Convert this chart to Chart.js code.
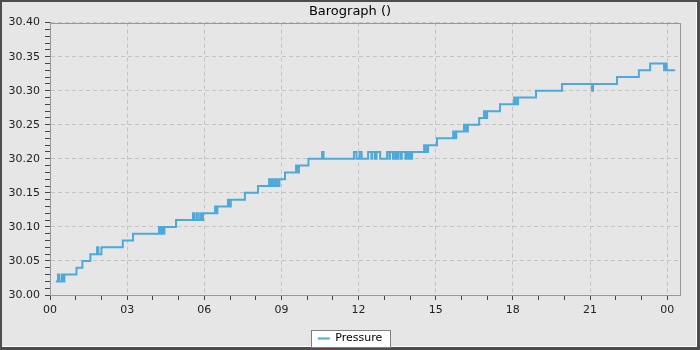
<!DOCTYPE html>
<html>
<head>
<meta charset="utf-8">
<title>Barograph</title>
<script src="https://cdn.jsdelivr.net/npm/chart.js@4.4.1/dist/chart.umd.min.js"></script>
<style>
  html, body { margin: 0; padding: 0; background: #e6e6e6; }
  #wrap { width: 700px; height: 350px; }
</style>
</head>
<body>
<div id="wrap"><canvas id="chart-barograph" width="700" height="350"></canvas></div>
<script>
// Barograph readings: hour since midnight, pressure (inHg)
const hours = [
  0.23, 0.31, 0.35, 0.45, 0.50, 0.56, 1.03, 1.26, 1.57, 1.83, 1.88, 2.00,
  2.83, 3.23, 4.24, 4.29, 4.34, 4.39, 4.45, 4.90, 5.56, 5.61, 5.70, 5.75,
  5.84, 5.88, 5.95, 6.42, 6.46, 6.51, 6.92, 6.96, 7.03, 7.58, 8.09, 8.52,
  8.58, 8.64, 8.70, 8.78, 8.84, 8.92, 9.14, 9.57, 9.62, 9.68, 10.05, 10.58,
  10.64, 11.82, 11.92, 12.04, 12.12, 12.37, 12.50, 12.52, 12.63, 12.70, 12.84, 13.11,
  13.20, 13.22, 13.34, 13.42, 13.48, 13.55, 13.64, 13.68, 13.82, 13.88, 13.93, 13.97,
  14.02, 14.08, 14.55, 14.62, 14.70, 15.05, 15.68, 15.74, 15.80, 16.10, 16.18, 16.25,
  16.69, 16.88, 16.93, 17.00, 17.50, 18.05, 18.12, 18.20, 18.90, 19.91, 21.08, 21.12,
  22.05, 22.90, 23.34, 23.88, 23.92, 23.98, 24.31
];
const pressure = [
  30.02, 30.03, 30.02, 30.03, 30.02, 30.03, 30.04, 30.05, 30.06, 30.07, 30.06, 30.07,
  30.08, 30.09, 30.10, 30.09, 30.10, 30.09, 30.10, 30.11, 30.12, 30.11, 30.12, 30.11,
  30.12, 30.11, 30.12, 30.13, 30.12, 30.13, 30.14, 30.13, 30.14, 30.15, 30.16, 30.17,
  30.16, 30.17, 30.16, 30.17, 30.16, 30.17, 30.18, 30.19, 30.18, 30.19, 30.20, 30.21,
  30.20, 30.21, 30.20, 30.21, 30.20, 30.21, 30.20, 30.21, 30.20, 30.21, 30.20, 30.21,
  30.20, 30.21, 30.20, 30.21, 30.20, 30.21, 30.20, 30.21, 30.20, 30.21, 30.20, 30.21,
  30.20, 30.21, 30.22, 30.21, 30.22, 30.23, 30.24, 30.23, 30.24, 30.25, 30.24, 30.25,
  30.26, 30.27, 30.26, 30.27, 30.28, 30.29, 30.28, 30.29, 30.30, 30.31, 30.30, 30.31,
  30.32, 30.33, 30.34, 30.33, 30.34, 30.33, 30.33
];

const xRange = [0, 24.5];
const yRange = [30.00, 30.40];
const hourLabelEvery = 3;      // label every 3 h, minor tick each hour
const pressureLabelEvery = 5;  // label every 0.05, minor tick each 0.01

const FONT = 'DejaVu Sans';
const GRID = '#c4c4c4';
const LINE = '#4ea9db';

function pad2(n) {
  return String(n).padStart(2, '0');
}

// Background, bevelled outer frame, plot outline and legend box
const framePlugin = {
  id: 'frame',
  beforeDraw(chart) {
    const { ctx, width, height } = chart;
    ctx.save();
    ctx.fillStyle = '#4d4d4d';
    ctx.fillRect(0, 0, width, height);
    ctx.fillStyle = '#ffffff';
    ctx.fillRect(2, 2, width - 5, height - 5);
    ctx.fillStyle = '#e6e6e6';
    ctx.fillRect(2, 2, width - 6, height - 6);

    const legend = chart.legend;
    if (legend && legend.legendHitBoxes && legend.legendHitBoxes.length) {
      const hb = legend.legendHitBoxes[0];
      const x = Math.round(hb.left - 7) + 0.5;
      const y = Math.round(hb.top - 3) + 0.5;
      const w = Math.round(hb.width + 15);
      const h = Math.round(hb.height + 6);
      ctx.fillStyle = '#ffffff';
      ctx.fillRect(x, y, w, h);
      ctx.strokeStyle = '#808080';
      ctx.lineWidth = 1;
      ctx.strokeRect(x, y, w, h);
    }
    ctx.restore();
  },
  beforeDatasetsDraw(chart) {
    const { ctx, chartArea } = chart;
    ctx.save();
    ctx.strokeStyle = '#999999';
    ctx.lineWidth = 1;
    ctx.strokeRect(Math.round(chartArea.left) + 0.5, Math.round(chartArea.top) + 0.5,
      Math.round(chartArea.right - chartArea.left), Math.round(chartArea.bottom - chartArea.top));
    ctx.restore();
  }
};

const ctx = document.getElementById('chart-barograph').getContext('2d');

new Chart(ctx, {
  type: 'line',
  data: {
    datasets: [{
      label: 'Pressure',
      data: hours.map((h, i) => ({ x: h, y: pressure[i] })),
      borderColor: LINE,
      backgroundColor: LINE,
      borderWidth: 2,
      pointRadius: 0,
      stepped: true,
      fill: false
    }]
  },
  options: {
    responsive: false,
    animation: false,
    events: [],
    layout: { padding: 0 },
    plugins: {
      title: {
        display: true,
        text: 'Barograph ()',
        color: '#000',
        font: { family: FONT, size: 13, weight: 'normal' },
        padding: { top: 4, bottom: 3 }
      },
      legend: {
        position: 'bottom',
        maxHeight: 21,
        labels: {
          usePointStyle: true,
          pointStyle: 'line',
          pointStyleWidth: 12,
          padding: 4,
          color: '#000',
          font: { family: FONT, size: 11 }
        }
      },
      tooltip: { enabled: false }
    },
    scales: {
      x: {
        type: 'linear',
        min: xRange[0],
        max: xRange[1],
        bounds: 'data',
        ticks: {
          stepSize: 1,
          includeBounds: false,
          autoSkip: false,
          maxRotation: 0,
          padding: 4,
          color: '#222',
          font: { family: FONT, size: 11 },
          callback: v => (v % hourLabelEvery === 0 ? pad2(v % 24) : '')
        },
        grid: {
          color: c => (c.tick && c.tick.value % hourLabelEvery === 0 ? GRID : 'rgba(0,0,0,0)'),
          tickColor: c => (c.tick && Number.isInteger(c.tick.value) ? '#444' : 'rgba(0,0,0,0)'),
          tickLength: 5,
          tickBorderDash: [],
          lineWidth: 1
        },
        border: { color: '#888', dash: [4, 3] },
        afterFit: scale => { scale.height = 34; }
      },
      y: {
        type: 'linear',
        min: yRange[0],
        max: yRange[1],
        ticks: {
          stepSize: 0.01,
          autoSkip: false,
          padding: 5,
          color: '#222',
          font: { family: FONT, size: 11 },
          callback: v => (Math.round(v * 100) % pressureLabelEvery === 0 ? v.toFixed(2) : '')
        },
        grid: {
          color: c => (c.tick && Math.round(c.tick.value * 100) % pressureLabelEvery === 0 ? GRID : 'rgba(0,0,0,0)'),
          tickColor: '#444',
          tickLength: 5,
          tickBorderDash: [],
          lineWidth: 1
        },
        border: { color: '#888', dash: [4, 3] },
        afterFit: scale => { scale.width = 50; }
      },
      // empty spacer on the right so the plot stops short of the frame
      yRight: {
        type: 'linear',
        position: 'right',
        min: yRange[0],
        max: yRange[1],
        ticks: { display: false },
        grid: { display: false },
        border: { display: false },
        afterFit: scale => { scale.width = 20; }
      }
    }
  },
  plugins: [framePlugin]
});
</script>
</body>
</html>
